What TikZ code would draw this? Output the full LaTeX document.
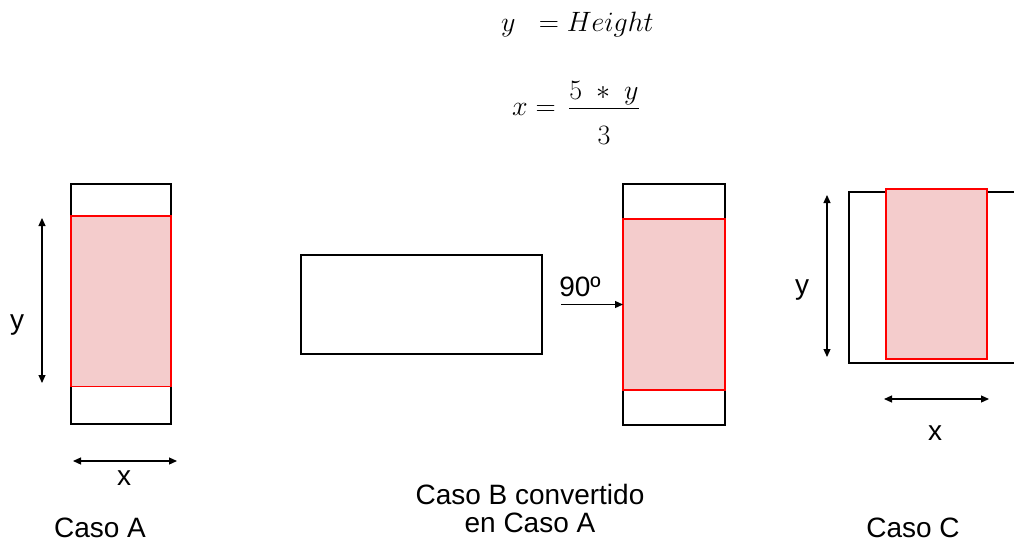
\RequirePackage{fix-cm}
\documentclass[tikz,border=0pt]{standalone}
\usepackage{fontspec}
\setsansfont{Liberation Sans}
\usepackage{amsmath}
\usetikzlibrary{arrows.meta}
\definecolor{pinkfill}{HTML}{F4CCCC}
\begin{document}
\begin{tikzpicture}[x=1pt,y=-1pt,
  frame/.style={draw=black, line width=1.3pt, fill=white, inner sep=0pt, outer sep=0pt},
  crop/.style={draw=red, line width=1.3pt, fill=pinkfill, inner sep=0pt, outer sep=0pt},
  dim/.style={{Triangle[length=8pt,width=7pt]}-{Triangle[length=8pt,width=7pt]}, line width=1.2pt},
  turn/.style={-{Triangle[length=8pt,width=7pt]}, line width=1.2pt},
  lbl/.style={font=\sffamily\fontsize{28}{28}\selectfont, inner sep=0pt},
  eq/.style={font=\fontsize{28}{32}\selectfont, inner sep=0pt}]
\clip (0,0) rectangle (1014,543);
% equations
\node[eq, anchor=base west] (eqy) at (501,32) {$y\;\;= Height$};
\node[eq, anchor=base west] (eqx) at (512,115) {$x = \,\dfrac{\raisebox{-5pt}{$5\;\ast\;y$}}{\raisebox{-10pt}{$3$}}$};
% Caso A
\node[frame, minimum width=100pt, minimum height=240pt] (aout) at (121,304) {};
\node[crop, minimum width=100pt, minimum height=170.5pt] (ared) at (121,301.25) {};
\coordinate (ay1) at (42,218);
\coordinate (ay2) at (42,383);
\draw[dim] (ay1) -- (ay2);
\node[lbl] (aylab) at (17,325) {y};
\coordinate (ax1) at (73,461);
\coordinate (ax2) at (177,461);
\draw[dim] (ax1) -- (ax2);
\node[lbl] (axlab) at (124,478) {x};
\node[lbl] (capA) at (100,528) {Caso A};
% Caso B
\node[frame, minimum width=241pt, minimum height=99pt] (bwide) at (421.5,304.5) {};
\node[frame, minimum width=102pt, minimum height=241pt] (bout) at (674,304.5) {};
\node[crop, minimum width=102pt, minimum height=171pt] (bred) at (674,304.5) {};
\coordinate (bstart) at (561,304.5);
\draw[turn] (bstart) -- (bred.west);
\node[lbl] (deg) at (580,287) {90º};
\node[lbl, align=center] (capB) at (530,508.5) {Caso B convertido\\en Caso A};
% Caso C
\node[frame, minimum width=200pt, minimum height=171pt, anchor=west] (cout) at (849,277.5) {};
\node[crop, minimum width=101pt, minimum height=170pt] (cred) at (936.5,274) {};
\coordinate (cy1) at (827,195);
\coordinate (cy2) at (827,357);
\draw[dim] (cy1) -- (cy2);
\node[lbl] (cylab) at (802,290) {y};
\coordinate (cx1) at (884,399);
\coordinate (cx2) at (989,399);
\draw[dim] (cx1) -- (cx2);
\node[lbl] (cxlab) at (935,433) {x};
\node[lbl] (capC) at (913,528) {Caso C};
\end{tikzpicture}
\end{document}
